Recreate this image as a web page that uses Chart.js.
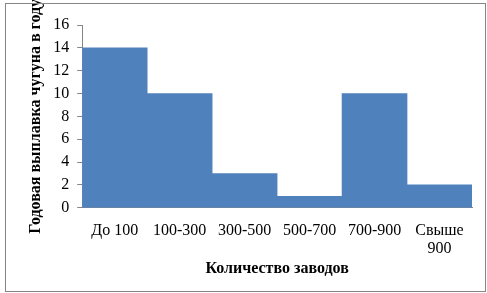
<!DOCTYPE html>
<html>
<head>
<meta charset="utf-8">
<script src="https://cdn.jsdelivr.net/npm/chart.js@4/dist/chart.umd.min.js"></script>
<style>
	html, body { margin: 0; padding: 0; background: #fff; }
	#wrap { position: relative; width: 487px; height: 293px; }
	#frame { position: absolute; left: 5px; top: 3px; width: 479px; height: 287px; border: 1px solid #868686; pointer-events: none; }
</style>
</head>
<body>
<div id="wrap">
	<canvas id="myChart" width="487" height="293"></canvas>
	<div id="frame"></div>
</div>
<script>
const categories = ['До 100', '100-300', '300-500', '500-700', '700-900', ['Свыше', '900']];
const values = [14, 10, 3, 1, 10, 2];
const yTicks = { min: 0, max: 16, step: 2 };

const xTitle = 'Количество заводов';
const yTitle = 'Годовая выплавка чугуна в году';

const serif = 'Liberation Serif';
const axisColor = '#868686';

Chart.defaults.font.family = serif;
Chart.defaults.color = '#000';

const ctx = document.getElementById('myChart');

const chart = new Chart(ctx, {
	type: 'bar',
	data: {
		labels: categories,
		datasets: [
			{
				data: values,
				backgroundColor: '#4F81BD',
				barPercentage: 1,
				categoryPercentage: 1,
			},
		],
	},
	options: {
		responsive: false,
		animation: false,
		devicePixelRatio: 1,
		layout: {
			padding: { top: 25, right: 15, bottom: 4, left: 0 },
		},
		scales: {
			x: {
				grid: {
					display: false,
					drawTicks: false,
				},
				border: {
					color: axisColor,
				},
				ticks: {
					padding: 14,
					maxRotation: 0,
					font: { size: 16, lineHeight: '18px' },
				},
				title: {
					display: true,
					text: xTitle,
					font: { size: 16, weight: 'bold', lineHeight: 1.2 },
					// pull the title up, closer to the labels
					padding: { top: -13, bottom: 11 },
				},
			},
			y: {
				min: yTicks.min,
				max: yTicks.max,
				border: {
					color: axisColor,
				},
				grid: {
					drawOnChartArea: false,
					tickLength: 5,
					color: axisColor,
				},
				ticks: {
					stepSize: yTicks.step,
					padding: 8,
					font: { size: 16 },
				},
				title: {
					display: true,
					text: yTitle,
					font: { size: 16, weight: 'bold', lineHeight: 1.2 },
					padding: { top: 26, bottom: 0 },
				},
			},
		},
		plugins: {
			legend: { display: false },
			tooltip: { enabled: false },
		},
	},
});
</script>
</body>
</html>
